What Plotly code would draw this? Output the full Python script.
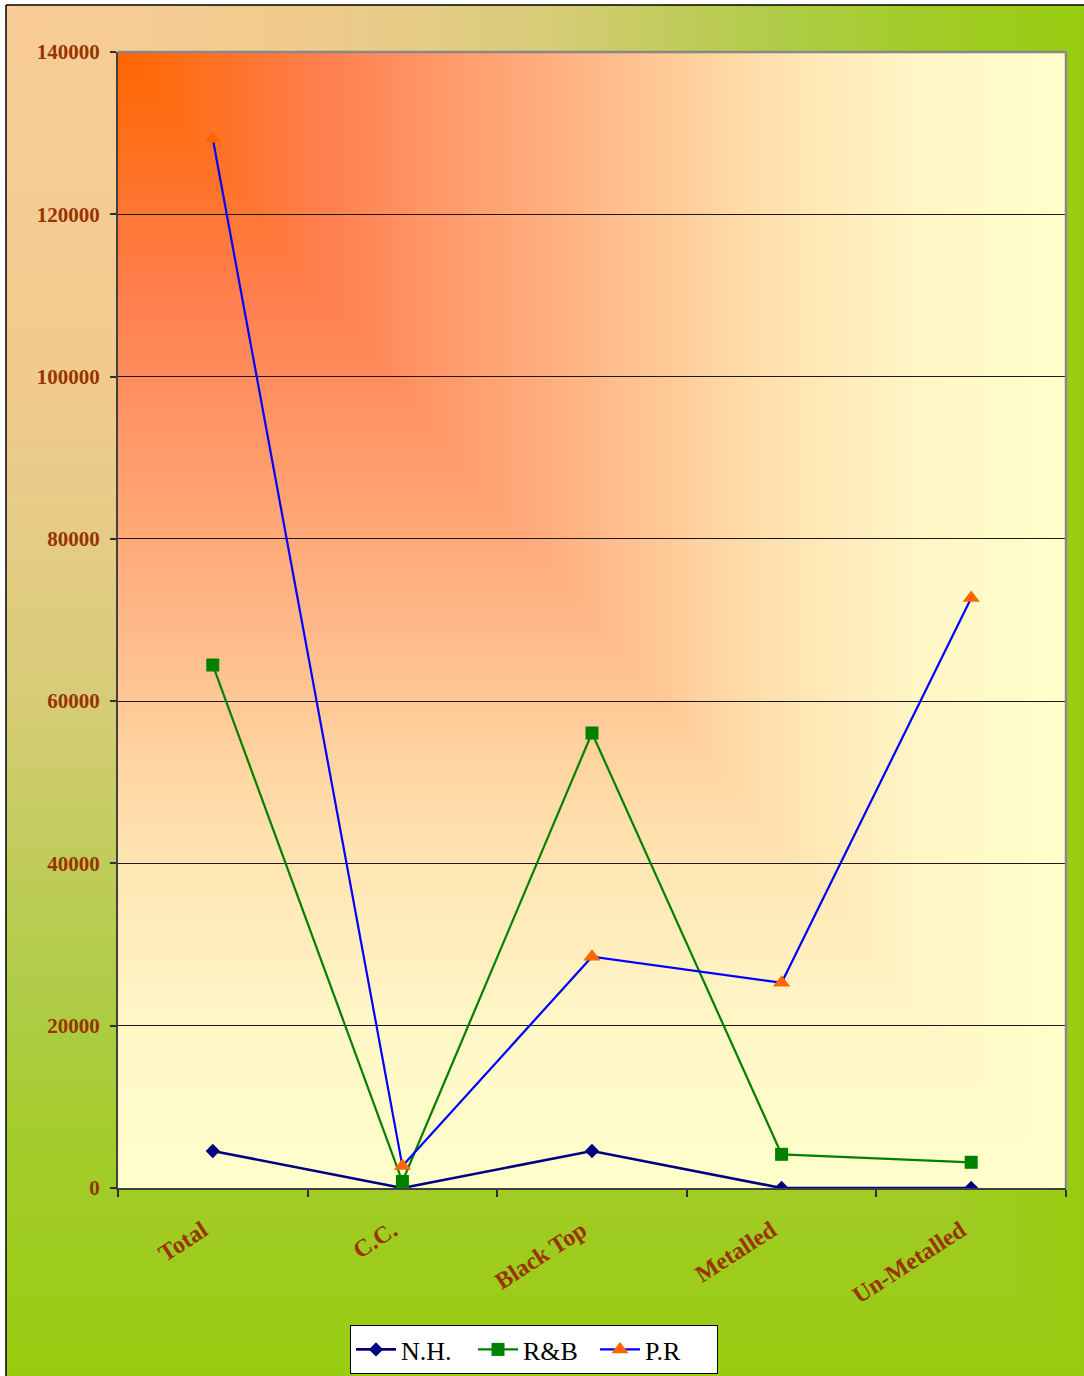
import base64
import struct
import zlib

import numpy as np
import plotly.graph_objects as go

# ---------------- data ----------------
categories = ["Total", "C.C.", "Black Top", "Metalled", "Un-Metalled"]
nh_values = [4560, 0, 4560, 0, 0]
rb_values = [64450, 800, 56070, 4150, 3170]
pr_values = [129300, 2700, 28500, 25300, 72700]
y_ticks = [0, 20000, 40000, 60000, 80000, 100000, 120000, 140000]

# ---------------- geometry ----------------
W, H = 1084, 1376
L, R, T, B = 118, 1066, 52, 1188
PW, PH = R - L, B - T


def px2x(px):
    return (px - L) / PW


def py2y(py):
    return (B - py) / PH


# ---------------- gradient images ----------------
def png_uri(rgb):
    h, w, _ = rgb.shape
    raw = b"".join(b"\x00" + rgb[j].astype(np.uint8).tobytes() for j in range(h))

    def chunk(tag, data):
        c = struct.pack(">I", len(data)) + tag + data
        return c + struct.pack(">I", zlib.crc32(tag + data) & 0xFFFFFFFF)

    png = (b"\x89PNG\r\n\x1a\n"
           + chunk(b"IHDR", struct.pack(">IIBBBBB", w, h, 8, 2, 0, 0, 0))
           + chunk(b"IDAT", zlib.compress(raw, 9))
           + chunk(b"IEND", b""))
    return "data:image/png;base64," + base64.b64encode(png).decode()


def hex2rgb(h):
    h = h.lstrip("#")
    return [int(h[i:i + 2], 16) for i in (0, 2, 4)]


def corner_gradient(n, stops):
    u = np.linspace(0, 1, n)
    uu, vv = np.meshgrid(u, u)
    t = np.maximum(uu, vv)
    ts = [s[0] for s in stops]
    cols = np.array([hex2rgb(s[1]) for s in stops], dtype=float)
    out = np.zeros((n, n, 3))
    for c in range(3):
        out[..., c] = np.interp(t, ts, cols[:, c])
    return np.clip(np.round(out), 0, 255)


outer_img = png_uri(corner_gradient(256, [
    (0.0, "#FACC98"), (0.28, "#F0CB8C"), (0.36, "#E8CC88"), (0.5, "#D8CC78"),
    (0.65, "#BCCC55"), (0.72, "#B0CC48"), (0.84, "#A3CC2A"), (1.0, "#99CC11")]))
plot_img = png_uri(corner_gradient(256, [
    (0.0, "#FF6600"), (0.22, "#FF8050"), (0.5, "#FFB888"), (0.64, "#FFD8A4"),
    (0.72, "#FFE6B4"), (0.85, "#FFF6C6"), (1.0, "#FFFFCC")]))

# ---------------- figure ----------------
fig = go.Figure()
fig.add_trace(go.Scatter(
    x=categories, y=nh_values, name="N.H.", mode="lines+markers",
    line=dict(color="#000080", width=2.6),
    marker=dict(symbol="diamond", size=11, color="#000080")))
fig.add_trace(go.Scatter(
    x=categories, y=rb_values, name="R&B", mode="lines+markers",
    line=dict(color="#008000", width=2.2),
    marker=dict(symbol="square", size=13, color="#008000")))
fig.add_trace(go.Scatter(
    x=categories, y=pr_values, name="P.R", mode="lines+markers",
    line=dict(color="#0000FF", width=2.2),
    marker=dict(symbol="triangle-up", size=15, color="#FF6600")))

y_font = dict(family="Liberation Serif", size=21, color="#993300", weight="bold")
x_font = dict(family="Liberation Serif", size=24, color="#993300", weight="bold")

fig.update_layout(
    width=W, height=H,
    margin=dict(l=L, r=W - R, t=T, b=H - B, autoexpand=False),
    paper_bgcolor="white",
    plot_bgcolor="rgba(0,0,0,0)",
    showlegend=True,
    legend=dict(
        orientation="h", x=px2x(534), xanchor="center", y=py2y(1325), yanchor="top",
        bgcolor="white", bordercolor="black", borderwidth=1,
        font=dict(family="Liberation Serif", size=26, color="black"),
        itemwidth=40, entrywidth=67,
    ),
    images=[
        dict(source=outer_img, xref="paper", yref="paper",
             x=px2x(6), y=py2y(5), sizex=(W - 6) / PW, sizey=(H - 5) / PH,
             xanchor="left", yanchor="top", sizing="stretch", layer="below"),
        dict(source=plot_img, xref="paper", yref="paper",
             x=0, y=1, sizex=1, sizey=1,
             xanchor="left", yanchor="top", sizing="stretch", layer="below"),
    ],
    shapes=[
        dict(type="line", xref="paper", yref="paper", x0=0, x1=1, y0=1, y1=1,
             line=dict(color="#888888", width=2.5), layer="above"),
        dict(type="line", xref="paper", yref="paper", x0=1, x1=1, y0=0, y1=1,
             line=dict(color="#888888", width=2.5), layer="above"),
        dict(type="line", xref="paper", yref="paper", x0=px2x(6), x1=px2x(6),
             y0=py2y(5), y1=py2y(H + 5), line=dict(color="black", width=1.5)),
        dict(type="line", xref="paper", yref="paper", x0=px2x(6), x1=px2x(W + 5),
             y0=py2y(5), y1=py2y(5), line=dict(color="black", width=1.5)),
    ],
)

fig.update_xaxes(
    type="category", categoryarray=categories, range=[-0.5, len(categories) - 0.5],
    showgrid=False, zeroline=False, automargin=False,
    showline=True, linecolor="#404040", linewidth=2,
    ticks="outside", tickson="boundaries", ticklen=7, tickwidth=1.5, tickcolor="#303030",
    tickangle=-33, tickfont=x_font, ticklabelstandoff=17, ticklabelshift=-10,
)
fig.update_yaxes(
    range=[0, 140000], tickvals=y_ticks, tickformat="d",
    showgrid=True, gridcolor="#1a1a1a", gridwidth=1, zeroline=False, automargin=False,
    showline=True, linecolor="#404040", linewidth=2,
    ticks="outside", ticklen=6, tickwidth=1.5, tickcolor="#303030",
    tickfont=y_font, ticklabelstandoff=6,
)

fig.write_html(
    "out.html",
    config={"displayModeBar": False},
    post_script="document.body.style.margin='0px';document.body.style.overflow='hidden';",
)
